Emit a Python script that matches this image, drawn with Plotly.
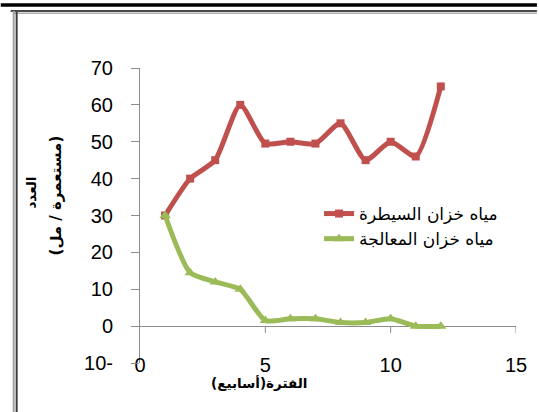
import plotly.graph_objects as go

# Weekly bacterial counts (colonies / ml) in the two tanks
weeks = [1, 2, 3, 4, 5, 6, 7, 8, 9, 10, 11, 12]
control_tank = [30, 40, 45, 60, 49.5, 50, 49.5, 55, 45, 50, 46, 65]
treated_tank = [30, 14.5, 12, 10, 1.5, 2, 2, 1, 1, 2, 0, 0]
series_names = ["مياه خزان السيطرة", "مياه خزان المعالجة"]

y_ticks = [-10, 0, 10, 20, 30, 40, 50, 60, 70]
y_tick_text = ["10-", "0", "10", "20", "30", "40", "50", "60", "70"]
x_ticks = [0, 5, 10, 15]
x_tick_text = ["0", "5", "10", "15"]

x_title = "الفترة(أسابيع)"
y_title_1 = "العدد"
y_title_2 = "(مستعمرة / مل)"

W, H = 539, 412
ML, MR, MT, MB = 140, 21, 68, 49
PW, PH = W - ML - MR, H - MT - MB


def fx(p):
    """page pixel x -> paper x"""
    return (p - ML) / PW


def fy(p):
    """page pixel y -> paper y"""
    return (H - MB - p) / PH


RED = "#C0504D"
GREEN = "#9BBB59"
AXIS = "#8C8C8C"

fig = go.Figure()
fig.add_trace(go.Scatter(
    x=weeks, y=control_tank, name=series_names[0], legendgroup="a",
    mode="lines+markers",
    line=dict(color=RED, width=5, shape="spline", smoothing=0.6),
    marker=dict(symbol="square", size=8, color=RED),
))
fig.add_trace(go.Scatter(
    x=weeks, y=treated_tank, name=series_names[1], legendgroup="b",
    mode="lines+markers",
    line=dict(color=GREEN, width=5, shape="spline", smoothing=0.6),
    marker=dict(symbol="triangle-up", size=10, color=GREEN),
))

shapes = []
# x-axis ticks hanging below the zero line
for t in x_ticks[1:]:
    shapes.append(dict(type="line", xref="x", yref="y", ysizemode="pixel", yanchor=0,
                       x0=t, x1=t, y0=0, y1=-7, line=dict(color=AXIS, width=1)))
# heavy rule at the very top
shapes.append(dict(type="rect", xref="paper", yref="paper",
                   x0=fx(0), x1=fx(W), y0=fy(6.7), y1=fy(3.3),
                   fillcolor="black", line=dict(width=0), layer="above"))
# frame lines
shapes.append(dict(type="line", xref="paper", yref="paper",
                   x0=fx(10), x1=fx(W), y0=fy(11), y1=fy(11),
                   line=dict(color="#4A4A4A", width=2)))
shapes.append(dict(type="line", xref="paper", yref="paper",
                   x0=fx(13), x1=fx(W), y0=fy(13.3), y1=fy(13.3),
                   line=dict(color="#B0B0B0", width=1.5)))
shapes.append(dict(type="line", xref="paper", yref="paper",
                   x0=fx(13), x1=fx(13), y0=fy(11), y1=fy(H),
                   line=dict(color="#A0A0A0", width=2)))
shapes.append(dict(type="line", xref="paper", yref="paper",
                   x0=fx(16), x1=fx(16), y0=fy(12), y1=fy(H),
                   line=dict(color="#3C3C3C", width=2)))


def title_font(size):
    return dict(family="DejaVu Sans, Arial", size=size, color="black")


annotations = [
    dict(text="<b>" + x_title + "</b>", xref="paper", yref="paper",
         x=fx(260), y=fy(383), showarrow=False, font=title_font(13.5),
         xanchor="center", yanchor="middle"),
    dict(text="<b>" + y_title_1 + "</b>", xref="paper", yref="paper",
         x=fx(30), y=fy(193), showarrow=False, font=title_font(13.5), textangle=-90,
         xanchor="center", yanchor="middle"),
    dict(text="<b>" + y_title_2 + "</b>", xref="paper", yref="paper",
         x=fx(56), y=fy(195), showarrow=False, font=title_font(15), textangle=-90,
         xanchor="center", yanchor="middle"),
]

fig.update_layout(
    width=W, height=H,
    margin=dict(l=ML, r=MR, t=MT, b=MB, pad=0),
    paper_bgcolor="white", plot_bgcolor="white",
    font=dict(family="Liberation Sans, Arial", color="black"),
    showlegend=True,
    legend=dict(x=fx(320), y=fy(196), xanchor="left", yanchor="top",
                bgcolor="rgba(0,0,0,0)", traceorder="grouped", tracegroupgap=0,
                font=dict(family="DejaVu Sans, Arial", size=17, color="black")),
    xaxis=dict(range=[0, 15], tickvals=x_ticks, ticktext=x_tick_text,
               showgrid=False, zeroline=False, showline=False, ticks="",
               tickfont=dict(size=20, color="black"), ticklabelstandoff=-12,
               fixedrange=True),
    yaxis=dict(range=[-10, 70], tickvals=y_ticks, ticktext=y_tick_text,
               showgrid=False, zeroline=True, zerolinecolor=AXIS, zerolinewidth=1,
               showline=True, linecolor=AXIS, linewidth=1,
               ticks="outside", ticklen=8, tickcolor=AXIS,
               tickfont=dict(size=20, color="black"), ticklabelstandoff=14,
               fixedrange=True),
    shapes=shapes,
    annotations=annotations,
)

fig.write_html("out.html")
